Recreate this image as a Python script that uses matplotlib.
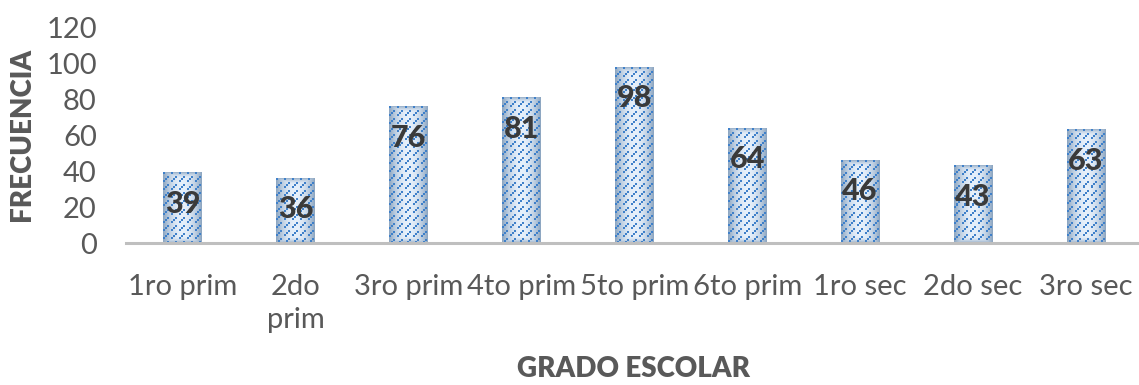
import numpy as np
import matplotlib
matplotlib.use("Agg")
import matplotlib.pyplot as plt

plt.rcParams['font.family'] = ['Lato', 'DejaVu Sans']

categories = ["1ro prim", "2do\nprim", "3ro prim", "4to prim", "5to prim",
              "6to prim", "1ro sec", "2do sec", "3ro sec"]
frecuencia = [39, 36, 76, 81, 98, 64, 46, 43, 63]
y_ticks = [0, 20, 40, 60, 80, 100, 120]

TEXT_GRAY = "#595959"
LABEL_DARK = "#3a3a3a"
EDGE = np.array([0x8e, 0xa7, 0xc2]) / 255.0
CENTER = np.array([0xe6, 0xf0, 0xfb]) / 255.0
DOT = np.array([0x3f, 0x80, 0xc9]) / 255.0

DPI = 100
fig = plt.figure(figsize=(11.39, 3.85), dpi=DPI)
ax = fig.add_axes([126 / 1139, 1 - 243 / 385, 1 - 126 / 1139, 215.5 / 385])

bar_w = 0.345
x = np.arange(len(categories))
XMAX = (1139 - 126) / 112.94 - 0.5
ax.set_xlim(-0.5, XMAX)
ax.set_ylim(0, 120)

bars = ax.bar(x, frecuencia, width=bar_w, color="none", edgecolor="none")


def bar_texture(w_px, h_px):
    """Rectangular gradient fill with a dashed upward-diagonal dot pattern."""
    cols = np.linspace(-1, 1, w_px)
    rows = np.arange(h_px)
    u = np.abs(cols)[None, :] ** 2.0
    edge_band = 7.0
    dist_v = np.minimum(rows, h_px - 1 - rows)[:, None]
    v = np.clip(1 - dist_v / edge_band, 0, 1) ** 2 * 0.8
    t = np.clip(np.maximum(u, v), 0, 1)
    img = CENTER[None, None, :] * (1 - t[..., None]) + EDGE[None, None, :] * t[..., None]
    rr, cc = np.meshgrid(rows, np.arange(w_px), indexing="ij")
    bi, bj = rr // 2, cc // 2
    mask = ((bi + bj) % 4 == 0) & (bj % 4 != 3)
    img[mask] = DOT
    return img


fig.canvas.draw()
for rect in bars:
    x0, y0 = rect.get_x(), rect.get_y()
    x1, y1 = x0 + rect.get_width(), y0 + rect.get_height()
    (px0, py0), (px1, py1) = ax.transData.transform([(x0, y0), (x1, y1)])
    w_px = max(int(round(px1 - px0)), 2)
    h_px = max(int(round(py1 - py0)), 2)
    tex = bar_texture(w_px, h_px)
    ax.imshow(tex, extent=(x0, x1, y0, y1), origin="upper",
              interpolation="nearest", aspect="auto", zorder=2)

ax.set_xlim(-0.5, XMAX)
ax.set_ylim(0, 120)

for xi, val in zip(x, frecuencia):
    ax.annotate(str(val), xy=(xi, val), xytext=(0, -31 * 72 / DPI),
                textcoords="offset points", ha="center", va="center",
                fontsize=22, fontweight="black", color=LABEL_DARK, zorder=3)

for side in ("top", "right", "left"):
    ax.spines[side].set_visible(False)
ax.spines["bottom"].set_color("#bfbfbf")
ax.spines["bottom"].set_linewidth(2.2)
ax.spines["bottom"].set_zorder(4)

ax.set_xticks(x)
ax.set_xticklabels(categories, linespacing=1.35)
ax.set_yticks(y_ticks)
ax.tick_params(axis="both", length=0, labelsize=21, labelcolor=TEXT_GRAY)
ax.tick_params(axis="y", pad=21)
ax.tick_params(axis="x", pad=22)
for lbl in ax.get_xticklabels():
    lbl.set_verticalalignment("top")

fig.text(634 / 1139, 1 - 369 / 385, "GRADO ESCOLAR", ha="center", va="center",
         fontsize=20, fontweight="heavy", color=TEXT_GRAY)
fig.text(22 / 1139, 1 - 134 / 385, "FRECUENCIA", ha="center", va="center",
         rotation=90, fontsize=20, fontweight="heavy", color=TEXT_GRAY)

fig.savefig("out.png", dpi=DPI)
